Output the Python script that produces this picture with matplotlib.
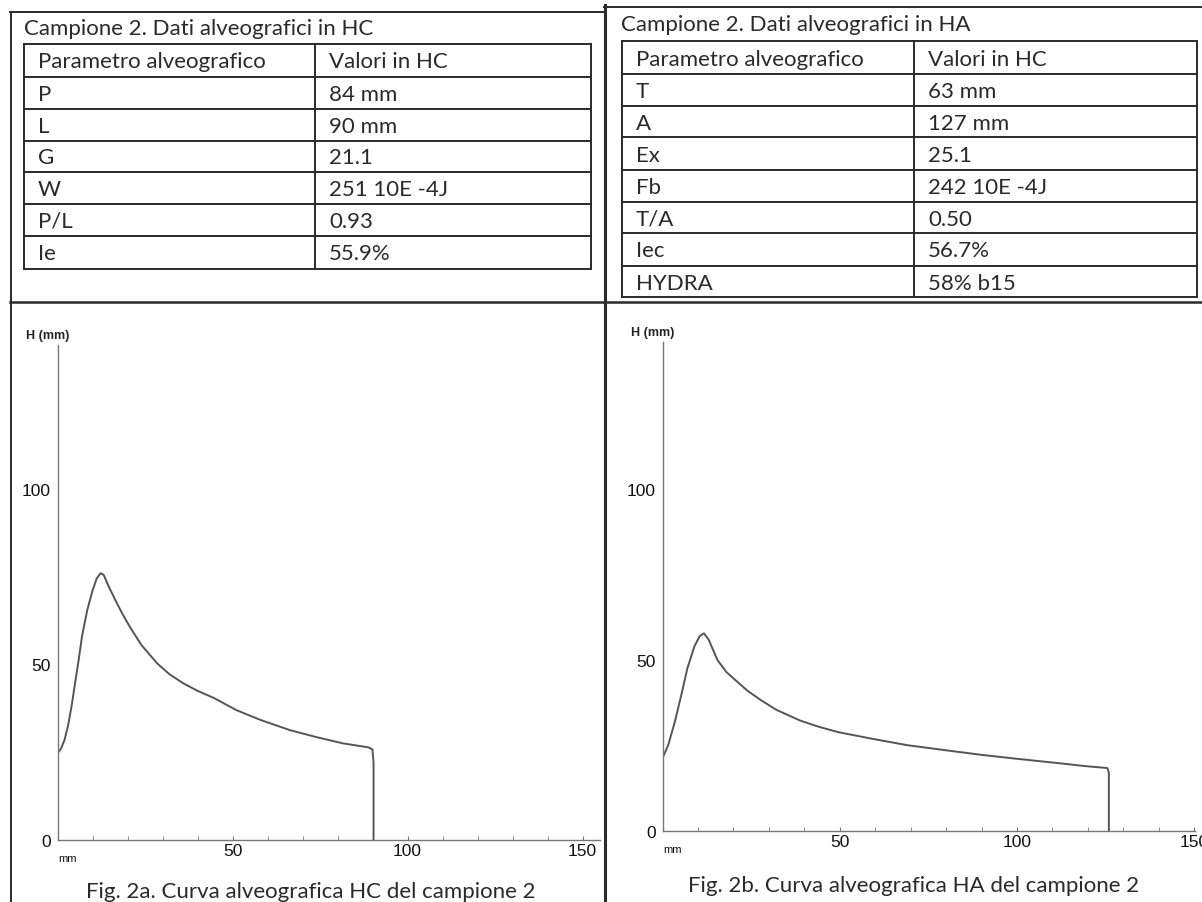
import matplotlib
matplotlib.use("Agg")
from matplotlib import pyplot as plt
from matplotlib.lines import Line2D
from matplotlib.ticker import MultipleLocator

# table contents
hc_title = "Campione 2. Dati alveografici in HC"
hc_params = ["Parametro alveografico", "P", "L", "G", "W", "P/L", "Ie"]
hc_values = ["Valori in HC", "84 mm", "90 mm", "21.1", "251 10E -4J", "0.93", "55.9%"]

ha_title = "Campione 2. Dati alveografici in HA"
ha_params = ["Parametro alveografico", "T", "A", "Ex", "Fb", "T/A", "Iec", "HYDRA"]
ha_values = ["Valori in HC", "63 mm", "127 mm", "25.1", "242 10E -4J", "0.50", "56.7%", "58% b15"]

# alveograph curves (x in mm, H in mm)
hc_x = [0, 1.0, 2.0, 3.0, 4.0, 5.0, 6.0, 7.0, 8.5, 10.0, 11.2, 12.3, 13.2, 14.5,
        16.4, 18.5, 20.8, 24.0, 28.4, 32.0, 36.0, 40.0, 44.8, 51.1, 58.0, 66.4,
        74.0, 81.7, 88.8, 90.0, 90.3, 90.3]
hc_y = [24.7, 26.0, 28.5, 32.5, 38.0, 44.5, 51.0, 58.0, 65.5, 71.0, 74.5, 76.0,
        75.5, 72.5, 68.6, 64.5, 60.5, 55.5, 50.4, 47.2, 44.6, 42.5, 40.4, 37.0,
        34.2, 31.3, 29.3, 27.5, 26.4, 25.8, 22.0, 0]

ha_x = [0, 1.6, 3.5, 5.4, 7.0, 9.0, 10.5, 11.7, 13.0, 15.5, 18.0, 20.7, 24.0,
        27.7, 32.0, 38.8, 44.0, 49.6, 59.0, 69.0, 80.0, 90.5, 101.0, 112.1,
        119.0, 125.5, 125.9, 125.9]
ha_y = [21.3, 25.1, 32.0, 40.2, 47.5, 54.0, 57.0, 57.8, 56.0, 50.0, 46.5, 44.0,
        41.0, 38.3, 35.5, 32.3, 30.5, 28.9, 27.0, 25.1, 23.6, 22.2, 21.0, 19.8,
        19.0, 18.4, 17.0, 0]

W, H = 1202, 903
fig = plt.figure(figsize=(W / 100, H / 100), dpi=100)
fig.patch.set_facecolor("white")

text_font = "Lato"
num_font = "Liberation Sans"
ink = "#2a2a2a"
fsize = 16


def fx(x):
    return x / W


def fy(y):
    return 1 - y / H


def hline(y, x0, x1, lw=1.4, color=ink):
    fig.add_artist(Line2D([fx(x0), fx(x1)], [fy(y), fy(y)], lw=lw, color=color))


def vline(x, y0, y1, lw=1.4, color=ink):
    fig.add_artist(Line2D([fx(x), fx(x)], [fy(y0), fy(y1)], lw=lw, color=color))


def draw_table(title, params, values, left, split, right, rows, title_xy):
    fig.text(fx(title_xy[0]), fy(title_xy[1]), title, fontsize=fsize,
             family=text_font, color=ink, va="center", ha="left")
    for y in rows:
        hline(y, left, right)
    for x in (left, split, right):
        vline(x, rows[0], rows[-1])
    for i, (p, v) in enumerate(zip(params, values)):
        yc = (rows[i] + rows[i + 1]) / 2 + 1
        fig.text(fx(left + 14), fy(yc), p, fontsize=fsize, family=text_font,
                 color=ink, va="center", ha="left")
        fig.text(fx(split + 14), fy(yc), v, fontsize=fsize, family=text_font,
                 color=ink, va="center", ha="left")


# outer frame of the page table
hline(13, 10, 604)
hline(8, 604, 1202)
vline(11, 13, 903)
vline(605, 6, 903, lw=2.2)
hline(303, 10, 1202, lw=1.8)

draw_table(hc_title, hc_params, hc_values, 24, 315, 591,
           [45, 78, 110, 142, 173, 205, 237, 270], (24, 29))
draw_table(ha_title, ha_params, ha_values, 622, 914, 1197,
           [42, 75, 107, 138, 171, 203, 234, 267, 298], (621, 25))


def draw_curve(rect, x, y, xmax, ymax):
    ax = fig.add_axes(rect)
    ax.plot(x, y, color="#555555", lw=1.4, solid_joinstyle="round")
    ax.set_xlim(0, xmax)
    ax.set_ylim(0, ymax)
    ax.set_facecolor("none")
    for s in ("top", "right"):
        ax.spines[s].set_visible(False)
    for s in ("left", "bottom"):
        ax.spines[s].set_color("#777777")
        ax.spines[s].set_linewidth(1.0)
    ax.set_xticks([0, 50, 100, 150])
    ax.set_xticklabels(["", "50", "100", "150"])
    ax.xaxis.set_minor_locator(MultipleLocator(10))
    ax.tick_params(axis="x", which="both", direction="in", length=3,
                   color="#777777", pad=2, labelsize=12.5)
    ax.set_yticks([0, 50, 100])
    ax.tick_params(axis="y", length=0, pad=5, labelsize=12.5)
    for lab in ax.get_xticklabels() + ax.get_yticklabels():
        lab.set_family(num_font)
        lab.set_color("#111111")
    ax.annotate("H (mm)", xy=(0, ymax), xytext=(-7, 7), textcoords="offset points",
                ha="center", va="center", fontsize=9, family=num_font,
                fontweight="bold", color="#222222", annotation_clip=False)
    ax.annotate("mm", xy=(0, 0), xytext=(7, -13), textcoords="offset points",
                ha="center", va="center", fontsize=8, family=num_font,
                color="#111111", annotation_clip=False)
    return ax


draw_curve([fx(57.5), fy(841), 542.5 / W, 495 / H], hc_x, hc_y, 155, 141)
draw_curve([fx(662.5), fy(832), 532.5 / W, 489 / H], ha_x, ha_y, 150.2, 143)

fig.text(fx(311), fy(892), "Fig. 2a. Curva alveografica HC del campione 2",
         fontsize=fsize, family=text_font, color=ink, ha="center", va="center")
fig.text(fx(914), fy(886), "Fig. 2b. Curva alveografica HA del campione 2",
         fontsize=fsize, family=text_font, color=ink, ha="center", va="center")

fig.savefig("out.png", dpi=100, facecolor="white")
